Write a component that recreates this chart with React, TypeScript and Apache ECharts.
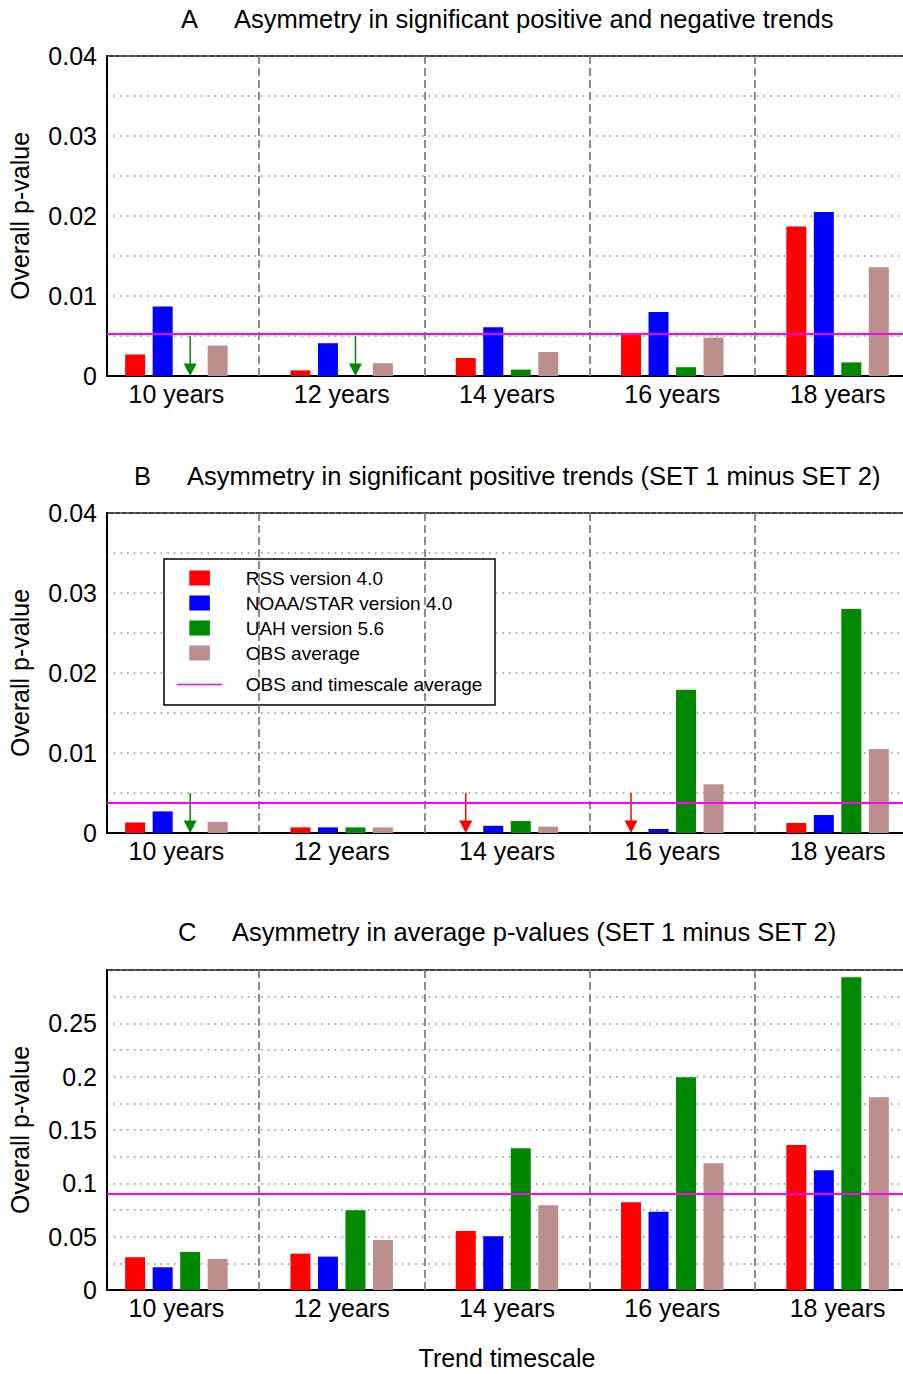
import React, { useEffect, useRef } from 'react';
import * as echarts from 'echarts';

// ---------- data ----------
const categories = [10, 12, 14, 16, 18];
const dividers = [11, 13, 15, 17];
const seriesNames = ['RSS version 4.0', 'NOAA/STAR version 4.0', 'UAH version 5.6', 'OBS average'];
const avgName = 'OBS and timescale average';
const xName = 'Trend timescale';
const yName = 'Overall p-value';

const titleA = 'Asymmetry in significant positive and negative trends';
const titleB = 'Asymmetry in significant positive trends (SET 1 minus SET 2)';
const titleC = 'Asymmetry in average p-values (SET 1 minus SET 2)';

// Panel A
const rssA = [0.0027, 0.0007, 0.00225, 0.0052, 0.0187];
const noaaA = [0.0087, 0.0041, 0.0061, 0.008, 0.0205];
const uahA = [null, null, 0.0008, 0.0011, 0.0017];
const obsA = [0.0038, 0.0016, 0.003, 0.0048, 0.0136];
const avgA = 0.00525;
// Panel B
const rssB = [0.0013, 0.0007, null, null, 0.00125];
const noaaB = [0.0027, 0.0007, 0.0009, 0.0005, 0.00225];
const uahB = [null, 0.0007, 0.0015, 0.0179, 0.028];
const obsB = [0.0014, 0.0007, 0.0008, 0.0061, 0.0105];
const avgB = 0.0038;
// Panel C
const rssC = [0.0306, 0.0341, 0.0553, 0.0822, 0.1359];
const noaaC = [0.0213, 0.0313, 0.0503, 0.0734, 0.1122];
const uahC = [0.0356, 0.0747, 0.1328, 0.1994, 0.2931];
const obsC = [0.0291, 0.0469, 0.0794, 0.1188, 0.1806];
const avgC = 0.0906;

// arrows marking missing values: [category, series index]
const arrowsA = [[10, 2], [12, 2]];
const arrowsB = [[10, 2], [14, 0], [16, 0]];
const arrowsC: number[][] = [];
const arrowTop = 0.005;

// ---------- styling ----------
const FONT = '"Liberation Sans", Arial, Helvetica, sans-serif';
const colors = ['#ff0000', '#0000ff', '#008800', '#bc8f8f'];
const MAGENTA = '#ff00ff';
const xMin = 9.16;
const xMax = 18.84;
const BAR_W = 20;
const BAR_STEP = 27.5;
const FS = 25;
const TITLE_FS = 25.5;

const panels = [
  { letter: 'A', title: titleA, values: [rssA, noaaA, uahA, obsA], avg: avgA, arrows: arrowsA, yMax: 0.04, yStep: 0.005, top: 56, titleTop: 6, letterLeft: 181, textLeft: 234 },
  { letter: 'B', title: titleB, values: [rssB, noaaB, uahB, obsB], avg: avgB, arrows: arrowsB, yMax: 0.04, yStep: 0.005, top: 513, titleTop: 463, letterLeft: 134, textLeft: 187 },
  { letter: 'C', title: titleC, values: [rssC, noaaC, uahC, obsC], avg: avgC, arrows: arrowsC, yMax: 0.3, yStep: 0.025, top: 970, titleTop: 919, letterLeft: 178, textLeft: 232 },
];

const boxIcon = 'path://M0,0M64,15M12.6,0h20.6v15h-20.6z';
const lineIcon = 'path://M0,0M64,15M0,6.7h45.6v1.6h-45.6z';

function yFormatter(panelIdx: number) {
  return (v: number) => {
    const k = Math.round(v * 1000);
    if (panelIdx < 2) {
      if (k % 10 !== 0) return '';
      return k === 0 ? '0' : String(k / 1000);
    }
    if (k % 50 !== 0 || k >= 300) return '';
    return k === 0 ? '0' : String(k / 1000);
  };
}

function buildOption() {
  const grid = panels.map((p) => ({
    left: 107,
    top: p.top,
    width: 800,
    height: 320,
    show: true,
    borderColor: '#000',
    borderWidth: 1.5,
    backgroundColor: 'transparent',
    containLabel: false,
    outerBoundsMode: 'none',
  }));

  const xAxis = panels.map((p, i) => ({
    gridIndex: i,
    type: 'value',
    min: xMin,
    max: xMax,
    axisLine: { show: true, onZero: false, lineStyle: { color: '#000', width: 2 } },
    axisTick: { show: false },
    splitLine: { show: false },
    axisLabel: {
      show: true,
      fontSize: FS,
      fontFamily: FONT,
      color: '#000',
      margin: 5,
      showMinLabel: true,
      showMaxLabel: true,
      formatter: (v: number) => {
        const r = Math.round(v);
        if (Math.abs(v - r) > 1e-6 || !categories.includes(r)) return '';
        return `${r} years`;
      },
    },
    name: i === 2 ? xName : '',
    nameLocation: 'middle',
    nameGap: 55,
    nameTextStyle: { fontSize: FS, fontFamily: FONT, color: '#000' },
  }));

  const yAxis = panels.map((p, i) => ({
    gridIndex: i,
    type: 'value',
    min: 0,
    max: p.yMax,
    interval: p.yStep,
    axisLine: { show: true, lineStyle: { color: '#000', width: 2 } },
    axisTick: { show: false },
    axisLabel: { fontSize: FS, fontFamily: FONT, color: '#000', margin: 10, formatter: yFormatter(i) },
    splitLine: { show: true, lineStyle: { type: [1.5, 5.2], color: '#8a8a8a', width: 1.5 } },
    name: yName,
    nameLocation: 'middle',
    nameGap: 75,
    nameTextStyle: { fontSize: FS, fontFamily: FONT, color: '#000' },
  }));

  const series: any[] = [];
  panels.forEach((p, i) => {
    // dashed dividers
    series.push({
      type: 'line',
      name: 'dividers',
      xAxisIndex: i,
      yAxisIndex: i,
      data: [],
      silent: true,
      z: 1,
      markLine: {
        silent: true,
        symbol: 'none',
        precision: 6,
        label: { show: false },
        emphasis: { disabled: true },
        lineStyle: { type: [8, 4], color: '#808080', width: 1.8 },
        data: dividers.map((d) => ({ xAxis: d })),
      },
    });
    seriesNames.forEach((name, s) => {
      series.push({
        type: 'bar',
        name,
        xAxisIndex: i,
        yAxisIndex: i,
        barWidth: BAR_W,
        barGap: '37.5%',
        itemStyle: { color: colors[s] },
        silent: true,
        z: 2,
        data: categories
          .map((c, k) => [c, p.values[s][k]])
          .filter((d) => d[1] !== null && d[1] !== undefined),
      });
    });
    // average line
    series.push({
      type: 'line',
      name: avgName,
      xAxisIndex: i,
      yAxisIndex: i,
      data: [],
      itemStyle: { color: MAGENTA },
      lineStyle: { color: MAGENTA, width: 2 },
      z: 3,
      markLine: {
        silent: true,
        symbol: 'none',
        precision: 6,
        label: { show: false },
        emphasis: { disabled: true },
        lineStyle: { type: 'solid', color: MAGENTA, width: 2 },
        data: [{ yAxis: p.avg }],
      },
    });
    // arrows
    if (p.arrows.length) {
      series.push({
        type: 'custom',
        name: 'arrows',
        xAxisIndex: i,
        yAxisIndex: i,
        silent: true,
        z: 3,
        encode: { x: 0, y: 1 },
        data: p.arrows.map((a) => [a[0], arrowTop, a[1]]),
        renderItem: (params: any, api: any) => {
          const t = api.coord([api.value(0), api.value(1)]);
          const b = api.coord([api.value(0), 0]);
          const slot = api.value(2);
          const x = t[0] + (slot - 1.5) * BAR_STEP;
          const color = colors[slot];
          return {
            type: 'group',
            children: [
              { type: 'line', shape: { x1: x, y1: t[1], x2: x, y2: b[1] - 10 }, style: { stroke: color, lineWidth: 1.5 } },
              { type: 'polygon', shape: { points: [[x - 6.5, b[1] - 12.5], [x + 6.5, b[1] - 12.5], [x, b[1]]] }, style: { fill: color } },
            ],
          };
        },
      });
    }
  });

  const titleStyle = { fontSize: TITLE_FS, fontWeight: 'normal', fontFamily: FONT, color: '#000' };
  const title: any[] = [];
  panels.forEach((p) => {
    title.push({ text: p.letter, left: p.letterLeft, top: p.titleTop, padding: 0, textStyle: titleStyle });
    title.push({ text: p.title, left: p.textLeft, top: p.titleTop, padding: 0, textStyle: titleStyle });
  });

  const legendText = { fontSize: 19, fontFamily: FONT, color: '#000' };
  const legend = [
    {
      data: seriesNames.map((n) => ({ name: n, icon: boxIcon })),
      orient: 'vertical',
      left: 176.7,
      top: 568.5,
      itemWidth: 64,
      itemHeight: 15,
      itemGap: 6,
      padding: 0,
      selectedMode: false,
      itemStyle: { borderWidth: 0 },
      textStyle: legendText,
      z: 6,
    },
    {
      data: [{ name: avgName, icon: lineIcon }],
      orient: 'vertical',
      left: 176.7,
      top: 675,
      itemWidth: 64,
      itemHeight: 15,
      padding: 0,
      selectedMode: false,
      itemStyle: { borderWidth: 0, color: MAGENTA },
      textStyle: legendText,
      z: 6,
    },
  ];

  return {
    animation: false,
    backgroundColor: '#fff',
    textStyle: { fontFamily: FONT },
    title,
    legend,
    grid,
    xAxis,
    yAxis,
    series,
    graphic: [
      {
        type: 'rect',
        silent: true,
        z: 5,
        shape: { x: 164, y: 559, width: 331, height: 146 },
        style: { fill: '#fff', stroke: '#000', lineWidth: 1.5 },
      },
    ],
  };
}

export default function App() {
  const ref = useRef<HTMLDivElement>(null);
  useEffect(() => {
    document.body.style.margin = '0';
    if (!ref.current) return;
    const chart = echarts.init(ref.current, undefined, { renderer: 'svg' });
    chart.setOption(buildOption() as any);
    return () => chart.dispose();
  }, []);
  return <div ref={ref} style={{ width: 903, height: 1374 }} />;
}
